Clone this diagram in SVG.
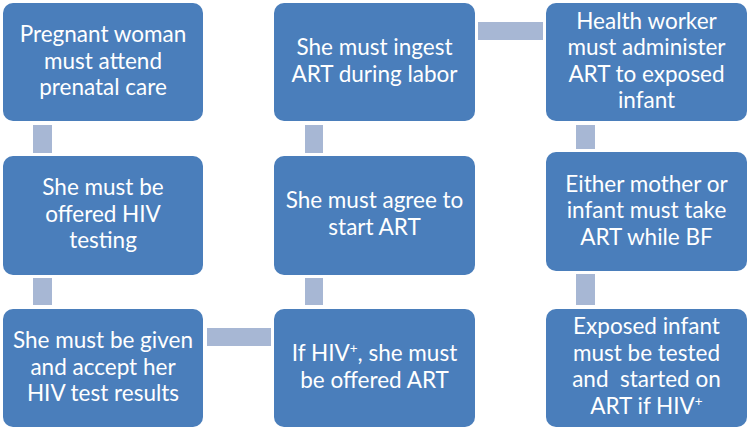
<svg xmlns="http://www.w3.org/2000/svg" width="750" height="431" viewBox="0 0 750 431">
<style>
.box{fill:#4a7ebb;}
.conn{fill:#a7b7d4;}
text{font-family:Lato,"Open Sans","Liberation Sans",sans-serif;font-size:22.5px;fill:#ffffff;text-anchor:middle;}
.sup{font-size:13.5px;}
</style>
<rect width="750" height="431" fill="#ffffff"/>
<g id="connectors">
<rect class="conn" x="33" y="125" width="19" height="28"/>
<rect class="conn" x="33" y="278" width="19" height="27"/>
<rect class="conn" x="207" y="328" width="64" height="18"/>
<rect class="conn" x="305" y="278" width="18" height="27"/>
<rect class="conn" x="305" y="125" width="18" height="28"/>
<rect class="conn" x="478" y="22" width="65" height="18"/>
<rect class="conn" x="576" y="125" width="19" height="24"/>
<rect class="conn" x="576" y="274" width="19" height="31"/>
</g>
<g id="n1">
<rect class="box" x="3" y="3" width="200" height="118" rx="10"/>
<text x="103" y="42">Pregnant woman</text>
<text x="103" y="68.5">must attend</text>
<text x="103" y="95">prenatal care</text>
</g>
<g id="n2">
<rect class="box" x="3" y="156" width="200" height="119" rx="10"/>
<text x="103" y="195">She must be</text>
<text x="103" y="221.5">offered HIV</text>
<text x="103" y="248">testing</text>
</g>
<g id="n3">
<rect class="box" x="3" y="309" width="200" height="118" rx="10"/>
<text x="103" y="348">She must be given</text>
<text x="103" y="374.5">and accept her</text>
<text x="103" y="401">HIV test results</text>
</g>
<g id="n4">
<rect class="box" x="274" y="309" width="201" height="118" rx="10"/>
<text x="374.5" y="361">If HIV<tspan class="sup" dy="-8">+</tspan><tspan dy="8">, she must</tspan></text>
<text x="374.5" y="387.5">be offered ART</text>
</g>
<g id="n5">
<rect class="box" x="274" y="156" width="201" height="119" rx="10"/>
<text x="374.5" y="208">She must agree to</text>
<text x="374.5" y="234.5">start ART</text>
</g>
<g id="n6">
<rect class="box" x="274" y="3" width="201" height="118" rx="10"/>
<text x="374.5" y="55">She must ingest</text>
<text x="374.5" y="81.5">ART during labor</text>
</g>
<g id="n7">
<rect class="box" x="546" y="3" width="201" height="118" rx="10"/>
<text x="646.5" y="28.5">Health worker</text>
<text x="646.5" y="55">must administer</text>
<text x="646.5" y="81.5">ART to exposed</text>
<text x="646.5" y="108">infant</text>
</g>
<g id="n8">
<rect class="box" x="546" y="152" width="201" height="119" rx="10"/>
<text x="646.5" y="191.5">Either mother or</text>
<text x="646.5" y="218">infant must take</text>
<text x="646.5" y="244.5">ART while BF</text>
</g>
<g id="n9">
<rect class="box" x="546" y="309" width="201" height="118" rx="10"/>
<text x="646.5" y="334">Exposed infant</text>
<text x="646.5" y="360.5">must be tested</text>
<text x="646.5" y="387" xml:space="preserve">and  started on</text>
<text x="646.5" y="413.5">ART if HIV<tspan class="sup" dy="-8">+</tspan></text>
</g>
</svg>
